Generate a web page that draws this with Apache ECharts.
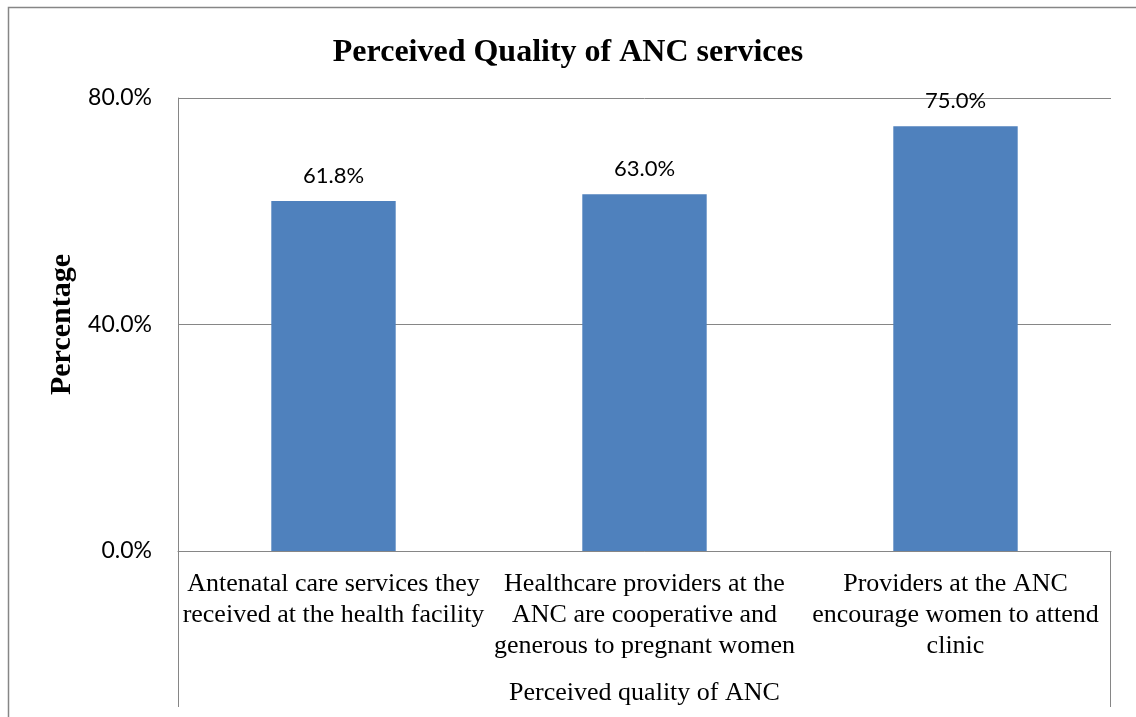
<!DOCTYPE html>
<html>
<head>
<meta charset="utf-8">
<script src="https://cdn.jsdelivr.net/npm/echarts@6/dist/echarts.min.js"></script>
<style>
  html, body { margin: 0; padding: 0; background: #fff; }
  #chart { width: 1136px; height: 717px; }
</style>
</head>
<body>
<div id="chart"></div>
<script>
// Chart data
var categories = [
  'Antenatal care services they\nreceived at the health facility',
  'Healthcare providers at the\nANC are cooperative and\ngenerous to pregnant women',
  'Providers at the ANC\nencourage women to attend\nclinic'
];
var percentValues = [0.618, 0.63, 0.75];
var yTicks = [0, 0.4, 0.8];

var lineColor = '#868686';

var myChart = echarts.init(document.getElementById('chart'));

var option = {
  animation: false,
  title: {
    text: 'Perceived Quality of ANC services',
    left: 'center',
    top: 37,
    padding: 0,
    textStyle: {
      fontFamily: 'Liberation Serif',
      fontWeight: 'bold',
      fontSize: 32,
      color: '#000'
    }
  },
  grid: {
    left: 178,
    right: 25,
    top: 98,
    bottom: 166
  },
  xAxis: {
    type: 'category',
    data: categories,
    name: 'Perceived quality of ANC',
    nameLocation: 'middle',
    nameGap: 129,
    nameTextStyle: {
      fontFamily: 'Liberation Serif',
      fontSize: 26,
      color: '#000'
    },
    axisLine: { lineStyle: { color: lineColor } },
    axisTick: { show: false },
    axisLabel: {
      interval: 0,
      margin: 18,
      fontFamily: 'Liberation Serif',
      fontSize: 26,
      lineHeight: 31,
      color: '#000'
    }
  },
  yAxis: {
    type: 'value',
    min: yTicks[0],
    max: yTicks[yTicks.length - 1],
    interval: yTicks[1] - yTicks[0],
    name: 'Percentage',
    nameLocation: 'middle',
    nameGap: 101,
    nameTextStyle: {
      fontFamily: 'Liberation Serif',
      fontWeight: 'bold',
      fontSize: 30,
      color: '#000'
    },
    axisLine: { show: true, lineStyle: { color: lineColor } },
    axisTick: { show: false },
    splitLine: { lineStyle: { color: lineColor } },
    axisLabel: {
      margin: 26,
      padding: [6, 0, 0, 0],
      fontFamily: 'Lato',
      fontSize: 23,
      color: '#000',
      formatter: function (v) { return (v * 100).toFixed(1) + '%'; }
    }
  },
  series: [
    {
      type: 'bar',
      data: percentValues,
      barWidth: '40%',
      itemStyle: { color: '#4F81BD' },
      label: {
        show: true,
        position: 'top',
        distance: 14,
        fontFamily: 'Lato',
        fontSize: 22,
        color: '#000',
        formatter: function (p) { return (p.value * 100).toFixed(1) + '%'; }
      }
    }
  ],
  // chart frame and the extended category axis borders
  graphic: [
    {
      type: 'rect',
      shape: { x: 8.5, y: 7.5, width: 1200, height: 800 },
      style: { fill: 'none', stroke: lineColor, lineWidth: 1.5 }
    },
    {
      type: 'line',
      shape: { x1: 178.5, y1: 551, x2: 178.5, y2: 707 },
      style: { stroke: lineColor, lineWidth: 1 }
    },
    {
      type: 'line',
      shape: { x1: 1110.5, y1: 551, x2: 1110.5, y2: 707 },
      style: { stroke: lineColor, lineWidth: 1 }
    }
  ]
};

myChart.setOption(option);
</script>
</body>
</html>
